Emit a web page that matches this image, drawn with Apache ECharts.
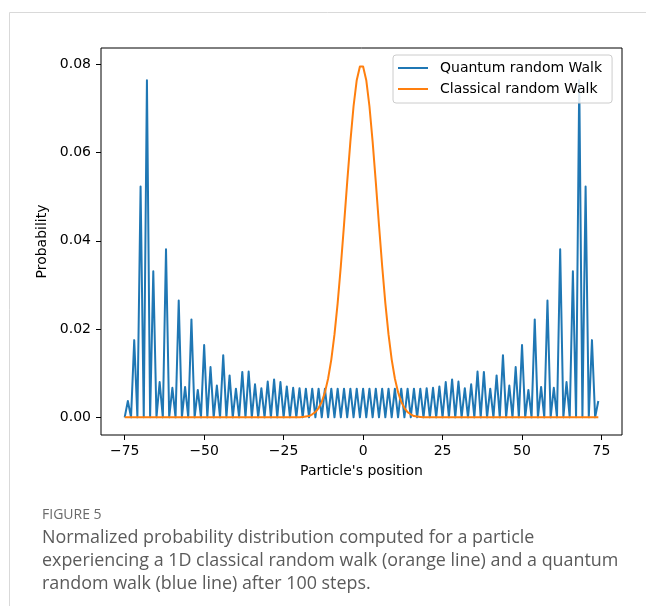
<!DOCTYPE html>
<html>
<head>
<meta charset="utf-8">
<script src="https://cdn.jsdelivr.net/npm/echarts@6/dist/echarts.min.js"></script>
<style>
  html, body { margin: 0; padding: 0; background: #fff; }
  #chart { width: 646px; height: 612px; }
</style>
</head>
<body>
<div id="chart"></div>
<script>
// particle positions (x axis)
var positions = [
  -75,-74,-73,-72,-71,-70,-69,-68,-67,-66,
  -65,-64,-63,-62,-61,-60,-59,-58,-57,-56,
  -55,-54,-53,-52,-51,-50,-49,-48,-47,-46,
  -45,-44,-43,-42,-41,-40,-39,-38,-37,-36,
  -35,-34,-33,-32,-31,-30,-29,-28,-27,-26,
  -25,-24,-23,-22,-21,-20,-19,-18,-17,-16,
  -15,-14,-13,-12,-11,-10,-9,-8,-7,-6,
  -5,-4,-3,-2,-1,0,1,2,3,4,
  5,6,7,8,9,10,11,12,13,14,
  15,16,17,18,19,20,21,22,23,24,
  25,26,27,28,29,30,31,32,33,34,
  35,36,37,38,39,40,41,42,43,44,
  45,46,47,48,49,50,51,52,53,54,
  55,56,57,58,59,60,61,62,63,64,
  65,66,67,68,69,70,71,72,73,74
];

// quantum walk probabilities, one per position
var quantumProb = [
  0, 0.0037, 0, 0.0175, 0, 0.0523, 0, 0.0764, 0, 0.0331,
  0, 0.0080, 0, 0.0381, 0, 0.0067, 0, 0.0265, 0, 0.0069,
  0, 0.0222, 0, 0.0062, 0, 0.0164, 0, 0.0114, 0, 0.0072,
  0, 0.0141, 0, 0.0095, 0, 0.0065, 0, 0.0103, 0, 0.0104,
  0, 0.0075, 0, 0.0066, 0, 0.0081, 0, 0.0086, 0, 0.0080,
  0, 0.0070, 0, 0.0067, 0, 0.0066, 0, 0.0065, 0, 0.0065,
  0, 0.0065, 0, 0.0065, 0, 0.0065, 0, 0.0065, 0, 0.0065,
  0, 0.0065, 0, 0.0065, 0, 0.0065, 0, 0.0065, 0, 0.0065,
  0, 0.0065, 0, 0.0065, 0, 0.0065, 0, 0.0065, 0, 0.0065,
  0, 0.0065, 0, 0.0065, 0, 0.0066, 0, 0.0067, 0, 0.0070,
  0, 0.0080, 0, 0.0086, 0, 0.0081, 0, 0.0066, 0, 0.0075,
  0, 0.0104, 0, 0.0103, 0, 0.0065, 0, 0.0095, 0, 0.0141,
  0, 0.0072, 0, 0.0114, 0, 0.0164, 0, 0.0062, 0, 0.0222,
  0, 0.0069, 0, 0.0265, 0, 0.0067, 0, 0.0381, 0, 0.0080,
  0, 0.0331, 0, 0.0764, 0, 0.0523, 0, 0.0175, 0, 0.0037
];

// classical walk probabilities, one per position
var classicalProb = [
  0, 0, 0, 0, 0, 0, 0, 0, 0, 0,
  0, 0, 0, 0, 0, 0, 0, 0, 0, 0,
  0, 0, 0, 0, 0, 0, 0, 0, 0, 0,
  0, 0, 0, 0, 0, 0, 0, 0, 0, 0,
  0, 0, 0, 0, 0, 0, 0, 0, 0, 0,
  0, 0, 0, 0, 0, 0, 0.0001, 0.0002, 0.0003, 0.0007,
  0.0012, 0.0021, 0.0035, 0.0057, 0.0088, 0.0131, 0.0188, 0.0259, 0.0343, 0.0436,
  0.0533, 0.0625, 0.0705, 0.0764, 0.0795, 0.0795, 0.0764, 0.0705, 0.0625, 0.0533,
  0.0436, 0.0343, 0.0259, 0.0188, 0.0131, 0.0088, 0.0057, 0.0035, 0.0021, 0.0012,
  0.0007, 0.0003, 0.0002, 0.0001, 0, 0, 0, 0, 0, 0,
  0, 0, 0, 0, 0, 0, 0, 0, 0, 0,
  0, 0, 0, 0, 0, 0, 0, 0, 0, 0,
  0, 0, 0, 0, 0, 0, 0, 0, 0, 0,
  0, 0, 0, 0, 0, 0, 0, 0, 0, 0,
  0, 0, 0, 0, 0, 0, 0, 0, 0, 0
];

var xTicks = [-75, -50, -25, 0, 25, 50, 75];
var yTicks = [0, 0.02, 0.04, 0.06, 0.08];

var captionLines = [
  'Normalized probability distribution computed for a particle',
  'experiencing a 1D classical random walk (orange line) and a quantum',
  'random walk (blue line) after 100 steps.'
];

var mplFont = 'DejaVu Sans';

function pairs(ys) {
  return positions.map(function (p, i) { return [p, ys[i]]; });
}

var chart = echarts.init(document.getElementById('chart'));

var captionGraphics = captionLines.map(function (t, i) {
  return {
    type: 'text', left: 42, top: 529 + i * 22.8,
    style: { text: t, fill: '#5a5a5a', font: '17.9px "Open Sans"' }
  };
});

var option = {
  backgroundColor: '#fff',
  animation: false,
  grid: {
    left: 101, top: 48, width: 521, height: 387,
    show: true, borderColor: '#000', borderWidth: 1,
    backgroundColor: 'transparent'
  },
  legend: {
    orient: 'vertical',
    left: 393, top: 55,
    padding: [5, 10, 6, 5],
    itemGap: 5,
    itemWidth: 30, itemHeight: 2,
    icon: 'rect',
    backgroundColor: 'rgba(255,255,255,0.85)',
    borderColor: '#cccccc', borderWidth: 1, borderRadius: 3,
    textStyle: { fontFamily: mplFont, fontSize: 14, color: '#000', padding: [0, 0, 0, 7], lineHeight: 16 },
    data: ['Quantum random Walk', 'Classical random Walk']
  },
  xAxis: {
    type: 'value', min: -82.45, max: 81.45,
    name: "Particle's position", nameLocation: 'middle', nameGap: 29,
    nameTextStyle: { fontFamily: mplFont, fontSize: 14, color: '#000' },
    axisLine: { show: false, onZero: false },
    axisTick: { show: true, customValues: xTicks, length: 5, lineStyle: { color: '#000' } },
    axisLabel: {
      customValues: xTicks, margin: 9,
      fontFamily: mplFont, fontSize: 14, color: '#000',
      formatter: function (v) { return v < 0 ? '\u2212' + Math.abs(v) : String(v); }
    },
    splitLine: { show: false }
  },
  yAxis: {
    type: 'value', min: -0.004, max: 0.0837,
    name: 'Probability', nameLocation: 'middle', nameGap: 46,
    nameTextStyle: { fontFamily: mplFont, fontSize: 14, color: '#000' },
    axisLine: { show: false, onZero: false },
    axisTick: { show: true, customValues: yTicks, length: 5, lineStyle: { color: '#000' } },
    axisLabel: {
      customValues: yTicks, margin: 10,
      fontFamily: mplFont, fontSize: 14, color: '#000',
      formatter: function (v) { return v.toFixed(2); }
    },
    splitLine: { show: false }
  },
  series: [
    {
      name: 'Quantum random Walk', type: 'line',
      data: pairs(quantumProb),
      showSymbol: false,
      itemStyle: { color: '#1f77b4' },
      lineStyle: { color: '#1f77b4', width: 2, join: 'round' }
    },
    {
      name: 'Classical random Walk', type: 'line',
      data: pairs(classicalProb),
      showSymbol: false,
      itemStyle: { color: '#ff7f0e' },
      lineStyle: { color: '#ff7f0e', width: 2, join: 'round' }
    }
  ],
  graphic: [
    { type: 'line', shape: { x1: 9.5, y1: 12.5, x2: 646, y2: 12.5 }, style: { stroke: '#d9d9d9', lineWidth: 1 } },
    { type: 'line', shape: { x1: 9.5, y1: 12.5, x2: 9.5, y2: 606 }, style: { stroke: '#d9d9d9', lineWidth: 1 } },
    {
      type: 'text', left: 42, top: 508,
      style: { text: 'FIGURE 5', fill: '#6a6a6a', font: '14px "Open Sans"' }
    }
  ].concat(captionGraphics)
};

option && chart.setOption(option);
window.addEventListener('resize', function () {
  chart.resize();
});
</script>
</body>
</html>
